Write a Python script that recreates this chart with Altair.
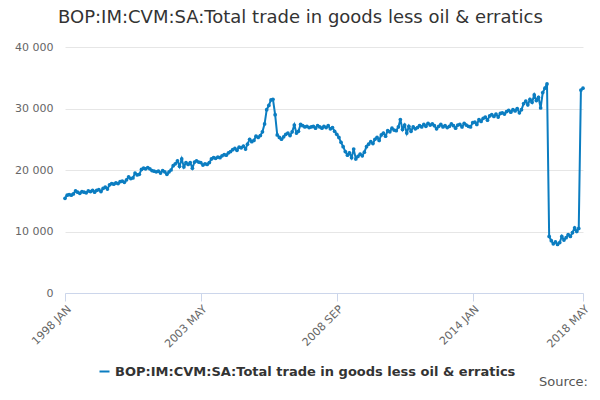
import altair as alt
import pandas as pd

y1998 = [15400, 15900, 16000, 15900, 16100, 16600, 16400, 16200, 16500, 16400, 16300, 16600]
y1999 = [16500, 16700, 16400, 16700, 16800, 16500, 17000, 17200, 16900, 17600, 17800, 17700]
y2000 = [17900, 17800, 18100, 18200, 18000, 18400, 18900, 18600, 18700, 19500, 19200, 19300]
y2001 = [20100, 20300, 20200, 20400, 20200, 19900, 19800, 19700, 19800, 19500, 19900, 19700]
y2002 = [19300, 19700, 20000, 20700, 21000, 21500, 20600, 21800, 20500, 21200, 20900, 21200]
y2003 = [20300, 21300, 21500, 21300, 21200, 20800, 21000, 20900, 21200, 21800, 22000, 21900]
y2004 = [22100, 22000, 22300, 22500, 22400, 22800, 23000, 23300, 23500, 23200, 23700, 23600]
y2005 = [23900, 23400, 24200, 25000, 24600, 24800, 25500, 25300, 25600, 26200, 27500, 29800]
y2006 = [30500, 31400, 31500, 29000, 25700, 25300, 25000, 25400, 25800, 26000, 25600, 26200]
y2007 = [27300, 26000, 26300, 27400, 27200, 27000, 27100, 26900, 27000, 27100, 26800, 27200]
y2008 = [27000, 26800, 27100, 26900, 27200, 26700, 26900, 26300, 25800, 25300, 24500, 23800]
y2009 = [23000, 22400, 22800, 22000, 23400, 21800, 22200, 22600, 22300, 22900, 23800, 24200]
y2010 = [24600, 24300, 25000, 25300, 24800, 25700, 26000, 25500, 26400, 26200, 26800, 26500]
y2011 = [26400, 27000, 28200, 26600, 27300, 26000, 27100, 26300, 27000, 26700, 26900, 27200]
y2012 = [27000, 27400, 27100, 27600, 27300, 27500, 27200, 26700, 27100, 27400, 27000, 27200]
y2013 = [26900, 27100, 27500, 27200, 26800, 27300, 27400, 27000, 27600, 27300, 27100, 27000]
y2014 = [27700, 27800, 27400, 28200, 27900, 28400, 28600, 28100, 28800, 29000, 28700, 29100]
y2015 = [28600, 29200, 29300, 29100, 29500, 29700, 29400, 29800, 29600, 30000, 29300, 29800]
y2016 = [30800, 31200, 30600, 31500, 31000, 32200, 31300, 31800, 30100, 32600, 33300, 34000]
y2017 = [9200, 8500, 8000, 8300, 7900, 8200, 9200, 8600, 9000, 9500, 9200, 9800]
y2018 = [10600, 10000, 10500, 33000, 33300]

values = (y1998 + y1999 + y2000 + y2001 + y2002 + y2003 + y2004 + y2005 + y2006
          + y2007 + y2008 + y2009 + y2010 + y2011 + y2012 + y2013 + y2014 + y2015
          + y2016 + y2017 + y2018)

dates = pd.date_range('1998-01-01', periods=len(values), freq='MS')
series = 'BOP:IM:CVM:SA:Total trade in goods less oil & erratics'
df = pd.DataFrame({'Fecha': dates, 'Valor': values, 'Serie': series})

tick_dates = [alt.DateTime(year=1998, month=1, date=1), alt.DateTime(year=2003, month=5, date=1),
              alt.DateTime(year=2008, month=9, date=1), alt.DateTime(year=2014, month=1, date=1),
              alt.DateTime(year=2018, month=5, date=1)]

line = alt.Chart(df).mark_line(point=alt.OverlayMarkDef(size=14, filled=True), strokeWidth=2).encode(
    x=alt.X('Fecha:T', title=None,
            scale=alt.Scale(domain=[alt.DateTime(year=1998, month=1, date=1), alt.DateTime(year=2018, month=5, date=1)]),
            axis=alt.Axis(values=tick_dates, labelExpr="upper(timeFormat(datum.value, '%Y %b'))",
                          labelAngle=-45, labelAlign='right', labelFontSize=11, labelColor='#666',
                          grid=False, domainColor='#ccd6eb', tickColor='#ccd6eb', tickSize=8)),
    y=alt.Y('Valor:Q', title=None,
            scale=alt.Scale(domain=[0, 40000]),
            axis=alt.Axis(values=[0, 10000, 20000, 30000, 40000],
                          labelExpr="replace(format(datum.value, ',.0f'), ',', ' ')",
                          labelFontSize=11, labelColor='#666', domain=False, ticks=False,
                          gridColor='#e6e6e6', labelPadding=12)),
    color=alt.Color('Serie:N', scale=alt.Scale(range=['#0b7dc1']),
                    legend=alt.Legend(orient='none', legendX=33, legendY=318, title=None,
                                      symbolType='stroke', symbolStrokeWidth=2, labelLimit=0,
                                      labelFontSize=13, labelFontWeight='bold', labelColor='#333'))
)

texts = pd.DataFrame({'t': ['Source:', series]})
source = alt.Chart(texts.iloc[[0]]).mark_text(
    align='right', fontSize=13, color='#555', font='DejaVu Sans'
).encode(x=alt.value(523), y=alt.value(335), text='t:N')
title = alt.Chart(texts.iloc[[1]]).mark_text(
    align='left', fontSize=18, color='#333', font='DejaVu Sans'
).encode(x=alt.value(-7), y=alt.value(-29), text='t:N')

chart = alt.layer(line, source, title).properties(
    width=518, height=246,
    autosize=alt.AutoSizeParams(type='none'),
    padding={'left': 57, 'top': 39, 'right': 9, 'bottom': 99},
).configure_view(stroke=None).configure_axis(labelFont='DejaVu Sans').configure_legend(labelFont='DejaVu Sans')

chart.save("out.html", embed_options={"renderer": "svg", "actions": False})
